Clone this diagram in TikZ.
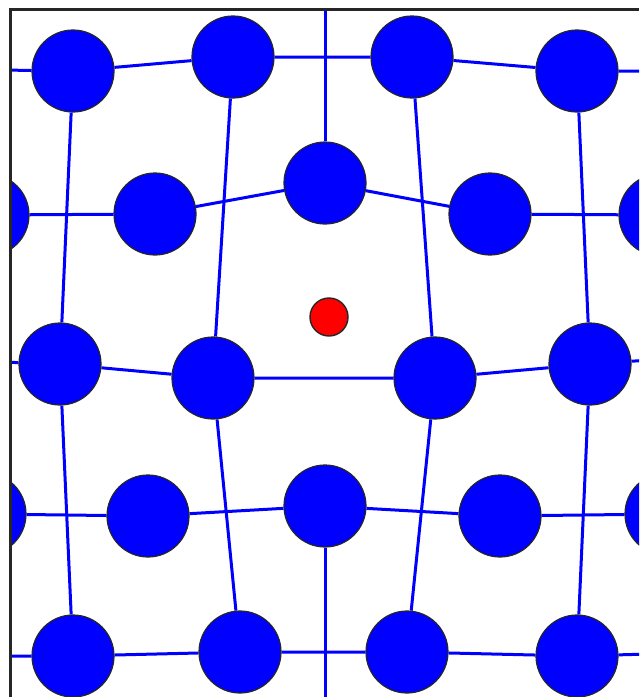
\documentclass[tikz,border=0pt]{standalone}
\usepackage{tikz}

\begin{document}
\begin{tikzpicture}[x=0.5pt,y=-0.5pt,
    atom/.style={circle,draw=black!85,line width=0.6pt,fill=blue,inner sep=0pt,minimum size=41pt},
    dopant/.style={circle,draw=black!85,line width=0.7pt,fill=red,inner sep=0pt,minimum size=19pt},
    bond/.style={line width=1.5pt,blue}]

    \useasboundingbox (0,0) rectangle (639,697);

    \begin{scope}
    \clip (11,10.5) rectangle (639,697);

    % lattice sites
    \node[atom] (a1) at (73,71) {};
    \node[atom] (a2) at (233,57) {};
    \node[atom] (a3) at (412,57) {};
    \node[atom] (a4) at (577,71) {};

    \node[atom] (b0) at (-12,215) {};
    \node[atom] (b1) at (155,214) {};
    \node[atom] (b2) at (325,183) {};
    \node[atom] (b3) at (490,214) {};
    \node[atom] (b4) at (660,215) {};

    \node[atom] (c1) at (60,364) {};
    \node[atom] (c2) at (213,378) {};
    \node[atom] (c3) at (435,378) {};
    \node[atom] (c4) at (590,364) {};

    \node[atom] (d0) at (-15,514) {};
    \node[atom] (d1) at (148,516) {};
    \node[atom] (d2) at (325,506) {};
    \node[atom] (d3) at (500,516) {};
    \node[atom] (d4) at (666,514) {};

    \node[atom] (e1) at (73,656) {};
    \node[atom] (e2) at (240,652) {};
    \node[atom] (e3) at (407,652) {};
    \node[atom] (e4) at (577,656) {};

    \node[dopant] (imp) at (329,317) {};

    % free ends at the frame
    \coordinate (la) at (0,70);
    \coordinate (ra) at (650,71);
    \coordinate (lc) at (0,362);
    \coordinate (rc) at (650,360);
    \coordinate (le) at (0,656);
    \coordinate (re) at (650,654);
    \coordinate (top) at (325,0);
    \coordinate (bot) at (325,710);

    % bonds
    \draw[bond] (la) -- (a1) -- (a2) -- (a3) -- (a4) -- (ra);
    \draw[bond] (b0) -- (b1) -- (b2) -- (b3) -- (b4);
    \draw[bond] (lc) -- (c1) -- (c2) -- (c3) -- (c4) -- (rc);
    \draw[bond] (d0) -- (d1) -- (d2) -- (d3) -- (d4);
    \draw[bond] (le) -- (e1) -- (e2) -- (e3) -- (e4) -- (re);

    \draw[bond] (a1) -- (c1) -- (e1);
    \draw[bond] (a2) -- (c2) -- (e2);
    \draw[bond] (a3) -- (c3) -- (e3);
    \draw[bond] (a4) -- (c4) -- (e4);
    \draw[bond] (top) -- (b2);
    \draw[bond] (d2) -- (bot);
    \end{scope}

    % frame
    \draw[line width=1.6pt,black!85] (10.5,697) |- (639,9.5);
\end{tikzpicture}
\end{document}
